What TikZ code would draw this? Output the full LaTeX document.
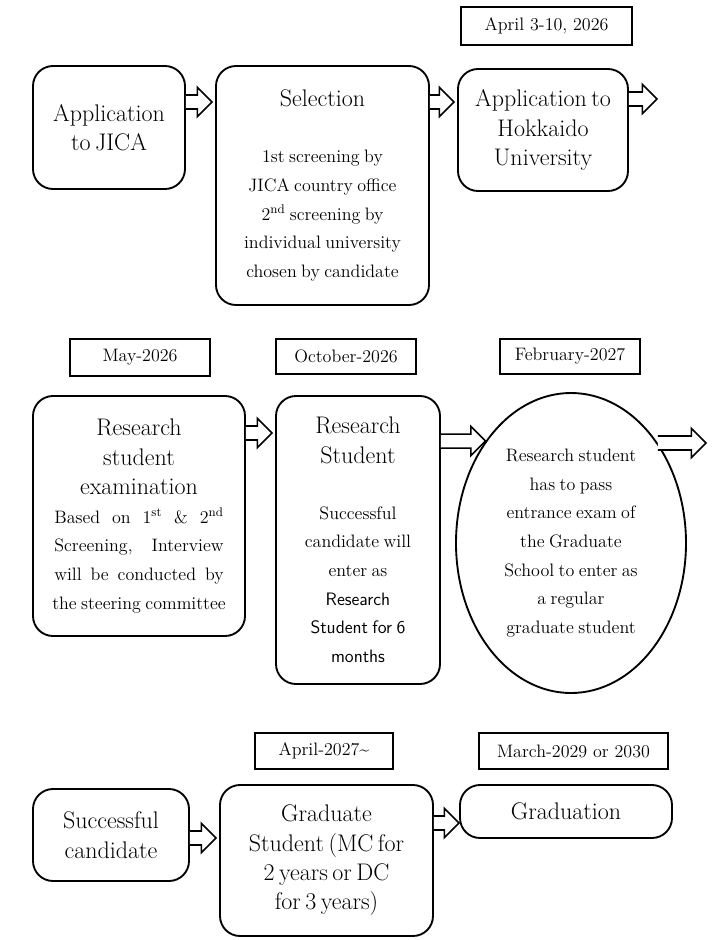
\documentclass[tikz,border=0pt]{standalone}
\usetikzlibrary{calc,shapes.geometric}
\newcommand\TitleFont{\fontsize{18}{22}\selectfont}
\newcommand\SmallFont{\fontsize{13.5}{21.5}\selectfont}
\tikzset{
  rbox/.style={draw, line width=1.4pt, rounded corners=15pt, inner sep=0pt, align=center},
  ebox/.style={draw, line width=1.4pt, ellipse, inner sep=0pt, align=center},
  dbox/.style={draw, line width=1.3pt, inner sep=0pt, font=\fontsize{13.5}{15}\selectfont},
  barrow/.style={draw, line width=1.2pt, fill=white},
}
\newcommand\blockarrow[2]{%
  \draw[barrow] let \p1=(#1), \p2=(#2) in
   (\x1,\y2+5.25pt) -- (\x2-11pt,\y2+5.25pt) -- (\x2-11pt,\y2+11pt) -- (\x2,\y2)
   -- (\x2-11pt,\y2-11pt) -- (\x2-11pt,\y2-5.25pt) -- (\x1,\y2-5.25pt);}
\begin{document}
\begin{tikzpicture}[x=0.75pt,y=-0.75pt]
\useasboundingbox (0,0) rectangle (715,940);

% ---- row 1 ----
\node[dbox, minimum width=128.25pt, minimum height=28.5pt] (d1) at (546.5,26) {April 3-10, 2026};

\node[rbox, minimum width=114pt, minimum height=92.25pt, text width=110pt] (jica) at (109,127.5)
  {\TitleFont Application\\to JICA\par};
\node[rbox, minimum width=159.75pt, minimum height=179.25pt, text width=150pt] (sel) at (322.5,185.5)
  {{\TitleFont Selection\par}\vspace{20.5pt}{\SmallFont 1st screening by\\JICA country office\\2\textsuperscript{nd} screening by\\individual university\\chosen by candidate\par}};
\node[rbox, minimum width=127.5pt, minimum height=91.5pt, text width=125pt] (hok) at (543,130)
  {\TitleFont Application to\\Hokkaido\\University\par};

% ---- row 2 ----
\node[dbox, minimum width=105pt, minimum height=27.75pt] (d2) at (140,357.5) {May-2026};
\node[dbox, minimum width=105pt, minimum height=26.25pt] (d3) at (346,356.5) {October-2026};
\node[dbox, minimum width=105pt, minimum height=26.25pt] (d4) at (570,356.5) {February-2027};

\node[rbox, minimum width=159pt, minimum height=180pt, text width=150pt] (exam) at (139,516)
  {{\TitleFont Research\\student\\examination\par}
   {\SmallFont
   \makebox[127pt]{Based\hfill on\hfill 1\textsuperscript{st}\hfill \&\hfill 2\textsuperscript{nd}}\\
   \makebox[127pt]{Screening,\hfill Interview}\\
   \makebox[127pt]{will\hfill be\hfill conducted\hfill by}\\
   \makebox[127pt]{the steering committee}\par}};
\node[rbox, minimum width=123pt, minimum height=216pt, text width=118pt] (rs) at (358,540)
  {{\TitleFont Research\\Student\par}\vspace{20.5pt}{\SmallFont Successful\\candidate will\\enter as\\{\sffamily Research}\\{\sffamily Student for 6}\\{\sffamily months}\par}};
\node[ebox, minimum width=172.5pt, minimum height=225pt, text width=112pt] (ell) at (571,543)
  {\SmallFont Research student\\has to pass\\entrance exam of\\the Graduate\\School to enter as\\a regular\\graduate student\par};

% ---- row 3 ----
\node[dbox, minimum width=103.5pt, minimum height=27pt] (d5) at (324,751) {April-2027\textasciitilde};
\node[dbox, minimum width=141.75pt, minimum height=27pt] (d6) at (573.5,751) {March-2029 or 2030};

\node[rbox, minimum width=117pt, minimum height=69pt, text width=112pt] (succ) at (111,835)
  {\fontsize{18}{22.5}\selectfont Successful\\candidate\par};
\node[rbox, minimum width=159.75pt, minimum height=113.25pt, text width=150pt] (grad) at (326.5,860.5)
  {\TitleFont Graduate\\Student (MC for\\2 years or DC\\for 3 years)\par};
\node[rbox, minimum width=159pt, minimum height=39.75pt, text width=150pt] (grdn) at (566,811.5)
  {\TitleFont Graduation\par};

% ---- arrows ----
\coordinate (y1) at (0,102);
\coordinate (y4) at (0,433);
\coordinate (y5) at (0,443);
\coordinate (y7) at (0,838);
\coordinate (y8) at (0,823);
\coordinate (free1) at (657,99);
\coordinate (free2) at (706,443);

\blockarrow{jica.east |- y1}{$(sel.west |- y1)+(-3,0)$}
\blockarrow{sel.east |- y1}{$(hok.west |- y1)+(-3,0)$}
\blockarrow{hok.east |- free1}{free1}
\blockarrow{exam.east |- y4}{$(rs.west |- y4)+(-3,0)$}
\blockarrow{rs.east |- y5}{ell.130.6}
\blockarrow{ell.49.4}{free2}
\blockarrow{succ.east |- y7}{$(grad.west |- y7)+(-3,0)$}
\blockarrow{grad.east |- y8}{grdn.west |- y8}
\end{tikzpicture}
\end{document}
